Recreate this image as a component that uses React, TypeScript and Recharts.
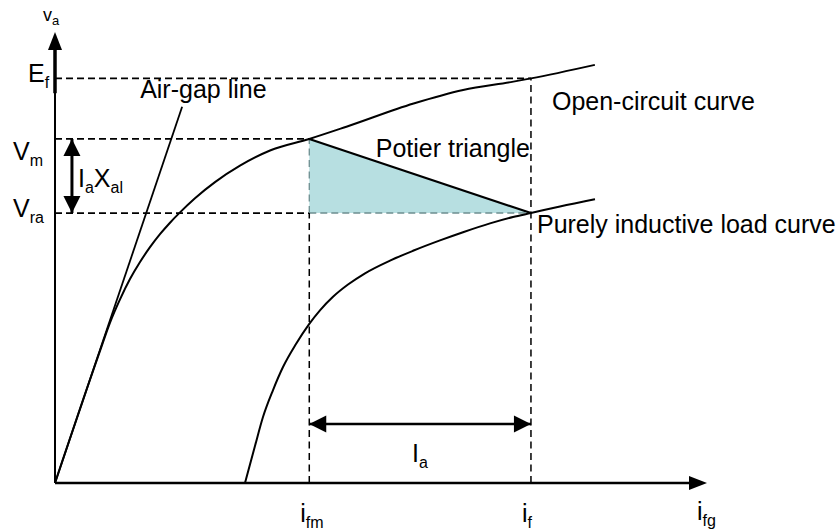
import React from 'react';
import { ComposedChart, Line, Area, Scatter, XAxis, YAxis, ReferenceLine } from 'recharts';

// Field current (x) and terminal voltage (y), arbitrary units.
const I_FM = 3.9;
const I_F = 7.3;
const E_F = 6.28;
const V_M = 5.34;
const V_RA = 4.19;
const X_MAX = 10;
const Y_MAX = 7;

// Open-circuit characteristic
const openCircuitX = [0, 0.69, 0.844, 0.997, 1.15, 1.304, 1.457, 1.61, 1.764, 1.917, 2.147, 2.454, 2.837, 3.298, 3.9, 4.47, 5.5, 6.26, 7.03, 7.3, 8.28];
const openCircuitY = [0, 2.05, 2.49, 2.85, 3.165, 3.43, 3.66, 3.862, 4.04, 4.2, 4.42, 4.67, 4.925, 5.16, 5.34, 5.53, 5.89, 6.1, 6.23, 6.28, 6.49];

// Zero power factor (purely inductive) load characteristic
const loadX = [2.914, 3.067, 3.19, 3.344, 3.497, 3.696, 3.9, 4.064, 4.264, 4.494, 4.755, 5.138, 5.491, 5.905, 6.258, 6.672, 7.025, 7.3, 7.745, 8.282];
const loadY = [0, 0.574, 1.024, 1.443, 1.8, 2.157, 2.47, 2.68, 2.89, 3.08, 3.255, 3.452, 3.604, 3.765, 3.892, 4.029, 4.128, 4.19, 4.292, 4.405];

// Air-gap line
const airGapX = [0, 1.95];
const airGapY = [0, 5.84];

// Dimension arrows
const REACTANCE_ARROW_X = 0.26;
const CURRENT_ARROW_Y = 0.916;

const zip = (xs: number[], ys: number[]) => xs.map((x, i) => ({ x, y: ys[i] }));

const openCircuit = zip(openCircuitX, openCircuitY);
const loadCurve = zip(loadX, loadY);
const airGap = zip(airGapX, airGapY);
const potierEdge = [
  { x: I_FM, y: V_M },
  { x: I_F, y: V_RA },
];
const potierFill = [
  { x: I_FM, band: [V_RA, V_M] },
  { x: I_F, band: [V_RA, V_RA] },
];

const arrowHeads = [
  { x: 0, y: Y_MAX, dir: 'up', kind: 'axis' },
  { x: X_MAX, y: 0, dir: 'right', kind: 'axis' },
  { x: REACTANCE_ARROW_X, y: V_M, dir: 'up', kind: 'dim' },
  { x: REACTANCE_ARROW_X, y: V_RA, dir: 'down', kind: 'dim' },
  { x: I_FM, y: CURRENT_ARROW_Y, dir: 'left', kind: 'dim' },
  { x: I_F, y: CURRENT_ARROW_Y, dir: 'right', kind: 'dim' },
];

// Label text: [text, isSubscript]
const labelParts: Record<string, Array<[string, boolean]>> = {
  va: [['v', false], ['a', true]],
  Ef: [['E', false], ['f', true]],
  Vm: [['V', false], ['m', true]],
  Vra: [['V', false], ['ra', true]],
  IaXal: [['I', false], ['a', true], ['X', false], ['al', true]],
  ifm: [['i', false], ['fm', true]],
  if: [['i', false], ['f', true]],
  ifg: [['i', false], ['fg', true]],
  Ia: [['I', false], ['a', true]],
  air: [['Air-gap line', false]],
  potier: [['Potier triangle', false]],
  oc: [['Open-circuit curve', false]],
  load: [['Purely inductive load curve', false]],
};

const labelAnchors = [
  { x: 0, y: Y_MAX, id: 'va' },
  { x: 0, y: E_F, id: 'Ef' },
  { x: 0, y: V_M, id: 'Vm' },
  { x: 0, y: V_RA, id: 'Vra' },
  { x: REACTANCE_ARROW_X, y: (V_M + V_RA) / 2, id: 'IaXal' },
  { x: I_FM, y: 0, id: 'ifm' },
  { x: I_F, y: 0, id: 'if' },
  { x: X_MAX, y: 0, id: 'ifg' },
  { x: (I_FM + I_F) / 2, y: CURRENT_ARROW_Y, id: 'Ia' },
  { x: airGapX[1], y: airGapY[1], id: 'air' },
  { x: I_F, y: V_M, id: 'potier' },
  { x: I_F, y: E_F, id: 'oc' },
  { x: I_F, y: V_RA, id: 'load' },
];

const FONT = '"Liberation Sans", Arial, Helvetica, sans-serif';

const labelLayout: Record<string, { dx: number; dy: number; size?: number; sub?: number; anchor?: 'start' | 'end' }> = {
  va: { dx: -12, dy: -11, size: 18, sub: 13 },
  Ef: { dx: -27, dy: 4 },
  Vm: { dx: -42, dy: 21 },
  Vra: { dx: -42, dy: 4 },
  IaXal: { dx: 6, dy: 11 },
  ifm: { dx: -9, dy: 39 },
  if: { dx: -9, dy: 39 },
  ifg: { dx: -10, dy: 37 },
  Ia: { dx: -8, dy: 38 },
  air: { dx: -42, dy: -9 },
  potier: { dx: -1, dy: 18, anchor: 'end' },
  oc: { dx: 21, dy: 32 },
  load: { dx: 6, dy: 20 },
};

const LabelShape = (props: any) => {
  const { cx, cy, payload } = props;
  if (cx == null || cy == null || !payload) return null;
  const parts = labelParts[payload.id];
  const lay = labelLayout[payload.id];
  const size = lay.size ?? 25;
  const sub = lay.sub ?? 16;
  const shift = Math.round(size * 0.22);
  let offset = 0;
  return (
    <text
      x={cx + lay.dx}
      y={cy + lay.dy}
      fontFamily={FONT}
      fontSize={size}
      fill="#000"
      textAnchor={lay.anchor ?? 'start'}
    >
      {parts.map(([t, isSub], i) => {
        const target = isSub ? shift : 0;
        const d = target - offset;
        offset = target;
        return (
          <tspan key={i} dy={d} fontSize={isSub ? sub : size}>
            {t}
          </tspan>
        );
      })}
    </text>
  );
};

const headSize: Record<string, { len: number; half: number }> = {
  axis: { len: 18, half: 7 },
  dim: { len: 17, half: 8.5 },
};

const ArrowHeadShape = (props: any) => {
  const { cx, cy, payload } = props;
  if (cx == null || cy == null || !payload) return null;
  const { len, half } = headSize[payload.kind];
  let pts = '';
  switch (payload.dir) {
    case 'up':
      pts = `${cx},${cy} ${cx - half},${cy + len} ${cx + half},${cy + len}`;
      break;
    case 'down':
      pts = `${cx},${cy} ${cx - half},${cy - len} ${cx + half},${cy - len}`;
      break;
    case 'left':
      pts = `${cx},${cy} ${cx + len},${cy - half} ${cx + len},${cy + half}`;
      break;
    default:
      pts = `${cx},${cy} ${cx - len},${cy - half} ${cx - len},${cy + half}`;
  }
  return <polygon points={pts} fill="#000" />;
};

const dashH = { stroke: '#000', strokeWidth: 1.8, strokeDasharray: '7 4' };
const dashV = { stroke: '#000', strokeWidth: 1.5, strokeDasharray: '7 4.5' };
// dashes that run along the edges of the shaded triangle show through the fill
const dashHInside = { ...dashH, stroke: '#6d8e90', strokeWidth: 1.4 };
const dashVInside = { ...dashV, stroke: '#6d8e90', strokeWidth: 1.3 };

export default function App() {
  return (
    <div style={{ position: 'absolute', left: 0, top: 0, width: 838, height: 531, background: '#fff' }}>
      <ComposedChart width={838} height={531} margin={{ top: 32, right: 131, bottom: 48, left: 55 }}>
        <XAxis type="number" dataKey="x" domain={[0, X_MAX]} hide />
        <YAxis type="number" domain={[0, Y_MAX]} hide />

        <Area
          data={potierFill}
          dataKey="band"
          type="linear"
          stroke="none"
          fill="#b7dfe1"
          fillOpacity={1}
          isAnimationActive={false}
          dot={false}
          activeDot={false}
        />

        <ReferenceLine segment={[{ x: 0, y: E_F }, { x: I_F, y: E_F }]} {...dashH} />
        <ReferenceLine segment={[{ x: 0, y: V_M }, { x: I_FM, y: V_M }]} {...dashH} />
        <ReferenceLine segment={[{ x: 0, y: V_RA }, { x: I_FM, y: V_RA }]} {...dashH} />
        <ReferenceLine segment={[{ x: I_FM, y: V_RA }, { x: I_F, y: V_RA }]} {...dashHInside} />
        <ReferenceLine segment={[{ x: I_FM, y: 0 }, { x: I_FM, y: V_RA }]} {...dashV} />
        <ReferenceLine segment={[{ x: I_FM, y: V_RA }, { x: I_FM, y: V_M }]} {...dashVInside} />
        <ReferenceLine segment={[{ x: I_F, y: 0 }, { x: I_F, y: E_F }]} {...dashV} />

        {/* axes */}
        <ReferenceLine segment={[{ x: 0, y: 0 }, { x: 9.8, y: 0 }]} stroke="#000" strokeWidth={2.5} />
        <ReferenceLine segment={[{ x: 0, y: 0 }, { x: 0, y: 6.8 }]} stroke="#000" strokeWidth={2} />
        <ReferenceLine segment={[{ x: 0, y: 6.05 }, { x: 0, y: 6.8 }]} stroke="#000" strokeWidth={3.5} />

        {/* dimension arrows */}
        <ReferenceLine
          segment={[{ x: REACTANCE_ARROW_X, y: V_RA }, { x: REACTANCE_ARROW_X, y: V_M }]}
          stroke="#000"
          strokeWidth={3}
        />
        <ReferenceLine
          segment={[{ x: I_FM, y: CURRENT_ARROW_Y }, { x: I_F, y: CURRENT_ARROW_Y }]}
          stroke="#000"
          strokeWidth={2.5}
        />

        <Line data={airGap} dataKey="y" type="linear" stroke="#000" strokeWidth={1.8} dot={false} activeDot={false} isAnimationActive={false} />
        <Line data={openCircuit} dataKey="y" type="monotone" stroke="#000" strokeWidth={2} dot={false} activeDot={false} isAnimationActive={false} />
        <Line data={loadCurve} dataKey="y" type="monotone" stroke="#000" strokeWidth={2} dot={false} activeDot={false} isAnimationActive={false} />
        <Line data={potierEdge} dataKey="y" type="linear" stroke="#000" strokeWidth={2.2} dot={false} activeDot={false} isAnimationActive={false} />

        <Scatter data={arrowHeads} dataKey="y" shape={ArrowHeadShape} isAnimationActive={false} />
        <Scatter data={labelAnchors} dataKey="y" shape={LabelShape} isAnimationActive={false} />
      </ComposedChart>
    </div>
  );
}
